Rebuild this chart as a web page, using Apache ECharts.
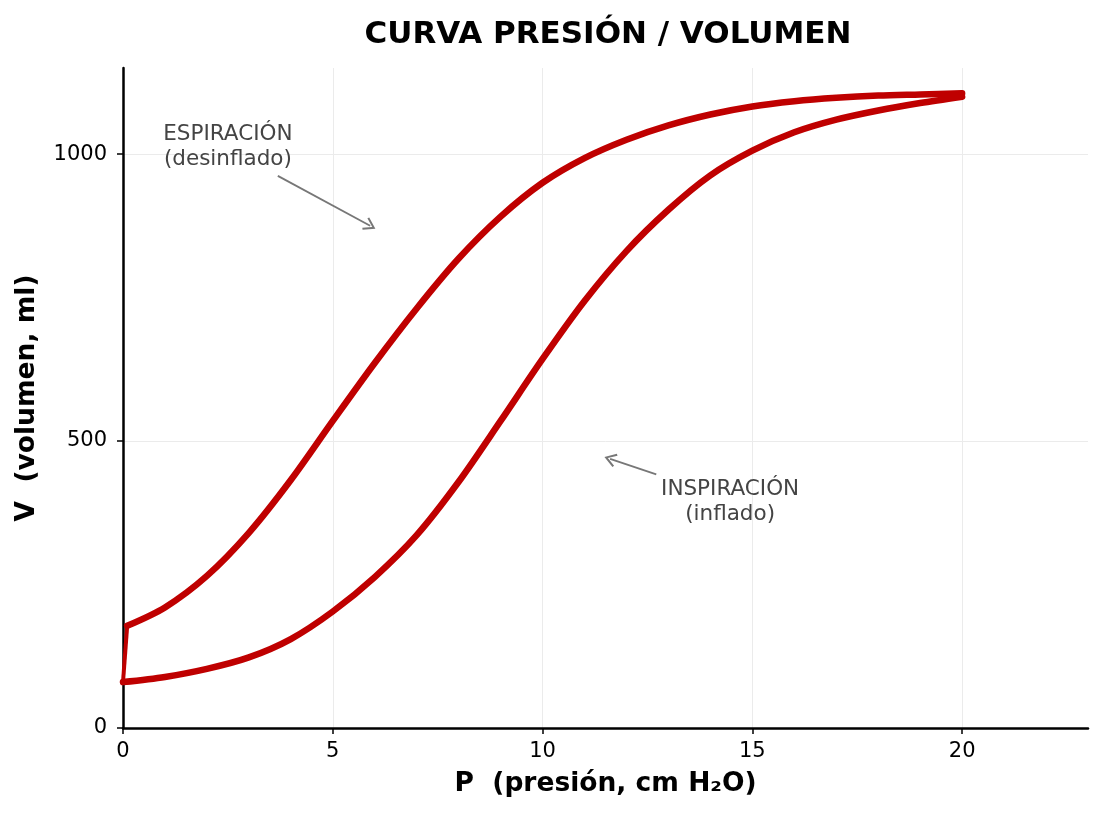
<!DOCTYPE html>
<html>
<head>
<meta charset="utf-8">
<title>Curva presión / volumen</title>
<script src="https://cdn.jsdelivr.net/npm/echarts@6/dist/echarts.min.js"></script>
<style>
    html, body { margin: 0; padding: 0; background: #fff; }
    #chart { width: 1104px; height: 816px; }
</style>
</head>
<body>
<div id="chart"></div>
<script>
// presión (cm H2O) y volumen (ml)
var presion = [0, 1, 2, 3, 4, 5, 6, 7, 8, 9, 10, 11, 12, 13, 14, 15, 16, 17, 18, 19, 20];
var volInspiracion = [80, 89, 103, 123, 155, 203, 263, 336, 429, 535, 643, 744, 831, 903, 963, 1006, 1038, 1060, 1076, 1089, 1100];
var presionEspiracion = [0.1, 1, 2, 3, 4, 5, 6, 7, 8, 9, 10, 11, 12, 13, 14, 15, 16, 17, 18, 19, 20];
var volEspiracion = [178, 210, 265, 340, 432, 535, 636, 731, 818, 891, 950, 993, 1025, 1050, 1069, 1083, 1092, 1098, 1102, 1104, 1106];
var ticksX = [0, 5, 10, 15, 20];
var ticksY = [0, 500, 1000];

(function (window) {
    var font = 'DejaVu Sans';
    var rojo = '#bf0000';

    function pares(xs, ys) {
        return xs.map(function (x, i) { return [x, ys[i]]; });
    }

    // flecha abierta (apunta hacia arriba, echarts la gira)
    var flecha = 'path://M0,9 L6,0 L12,9 L10.6,10 L6,3 L1.4,10 Z';

    var chart = echarts.init(document.getElementById('chart'), null, { renderer: 'canvas' });

    chart.setOption({
        animation: false,
        title: {
            text: 'CURVA PRESIÓN / VOLUMEN',
            left: 603,
            textAlign: 'center',
            top: 14,
            textStyle: { fontFamily: font, fontWeight: 'bold', fontSize: 31, color: '#000' }
        },
        grid: { left: 123, right: 16, top: 68, bottom: 88 },
        xAxis: {
            type: 'value',
            min: 0,
            max: 23,
            interval: 5,
            name: 'P  (presión, cm H₂O)',
            nameLocation: 'middle',
            nameGap: 43,
            nameTextStyle: { fontFamily: font, fontWeight: 'bold', fontSize: 26.5, color: '#000' },
            axisLine: { onZero: false, lineStyle: { color: '#000', width: 2.5 } },
            axisTick: { show: true, length: 6, customValues: ticksX, lineStyle: { color: '#000', width: 1.5 } },
            axisLabel: { customValues: ticksX, margin: 13, fontFamily: font, fontSize: 21, color: '#000' },
            splitLine: { show: true, lineStyle: { color: '#ebebeb', width: 1 } }
        },
        yAxis: {
            type: 'value',
            min: 0,
            max: 1150,
            interval: 500,
            name: 'V  (volumen, ml)',
            nameLocation: 'middle',
            nameGap: 82,
            nameTextStyle: { fontFamily: font, fontWeight: 'bold', fontSize: 26.5, color: '#000' },
            axisLine: { show: true, onZero: false, lineStyle: { color: '#000', width: 2.5 } },
            axisTick: { show: true, length: 6, customValues: ticksY, lineStyle: { color: '#000', width: 1.5 } },
            axisLabel: {
                customValues: ticksY,
                margin: 16,
                fontFamily: font,
                fontSize: 21,
                color: '#000',
                formatter: function (v) { return String(v); }
            },
            splitLine: { show: true, lineStyle: { color: '#ebebeb', width: 1 } }
        },
        series: [
            {
                name: 'Inspiración',
                type: 'line',
                data: pares(presion, volInspiracion),
                smooth: 0.3,
                showSymbol: false,
                lineStyle: { color: rojo, width: 6.5, cap: 'round', join: 'round' },
                markPoint: {
                    silent: true,
                    symbol: 'circle',
                    symbolSize: 0,
                    label: {
                        show: true,
                        position: 'inside',
                        fontFamily: font,
                        fontSize: 21.5,
                        lineHeight: 25,
                        color: '#444',
                        align: 'center',
                        formatter: function (p) { return p.name; }
                    },
                    data: [
                        { name: 'ESPIRACIÓN\n(desinflado)', coord: [2.5, 1012] },
                        { name: 'INSPIRACIÓN\n(inflado)', coord: [14.47, 394] }
                    ]
                },
                markLine: {
                    silent: true,
                    symbol: ['none', flecha],
                    symbolSize: [14, 12],
                    label: { show: false },
                    lineStyle: { color: '#777', width: 1.8, type: 'solid' },
                    data: [
                        [{ coord: [3.69, 962] }, { coord: [5.89, 875] }],
                        [{ coord: [12.71, 442] }, { coord: [11.61, 469] }]
                    ]
                }
            },
            {
                name: 'Espiración',
                type: 'line',
                data: pares(presionEspiracion, volEspiracion),
                smooth: 0.3,
                showSymbol: false,
                lineStyle: { color: rojo, width: 6.5, cap: 'round', join: 'round' }
            },
            {
                // cierre del bucle a presión cero
                name: 'Cierre',
                type: 'line',
                data: [[presionEspiracion[0], volEspiracion[0]], [presion[0], volInspiracion[0]]],
                showSymbol: false,
                lineStyle: { color: rojo, width: 4, cap: 'butt' }
            }
        ]
    });
})(window);
</script>
</body>
</html>
